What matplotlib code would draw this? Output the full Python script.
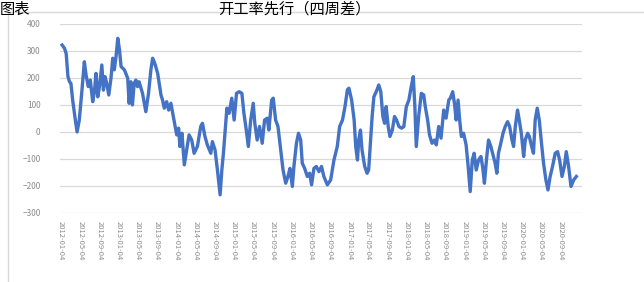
import pandas as pd
import matplotlib.pyplot as plt
import matplotlib.dates as mdates
from matplotlib.patches import Rectangle

plt.rcParams['font.family'] = ['Noto Sans CJK SC', 'DejaVu Sans']

# series
dates = [
    '2012-01-10', '2012-01-25', '2012-02-05', '2012-02-16', '2012-02-26', '2012-03-06', '2012-03-17',
    '2012-04-03', '2012-04-14', '2012-04-28', '2012-05-15', '2012-05-30', '2012-06-10', '2012-06-24',
    '2012-07-07', '2012-07-22', '2012-08-02', '2012-08-12', '2012-08-23', '2012-09-03', '2012-09-18',
    '2012-09-28', '2012-10-08', '2012-10-19', '2012-11-01', '2012-11-15', '2012-11-26', '2012-12-06',
    '2012-12-17', '2012-12-28', '2013-01-08', '2013-01-18', '2013-02-08', '2013-03-01', '2013-03-10',
    '2013-03-21', '2013-03-31', '2013-04-11', '2013-04-22', '2013-05-02', '2013-05-12', '2013-06-03',
    '2013-06-24', '2013-07-11', '2013-07-26', '2013-08-06', '2013-08-20', '2013-09-07', '2013-09-28',
    '2013-10-08', '2013-10-19', '2013-11-03', '2013-11-16', '2013-11-30', '2013-12-15', '2013-12-27',
    '2014-01-06', '2014-01-18', '2014-01-26', '2014-02-08', '2014-02-23', '2014-03-08', '2014-03-25',
    '2014-04-11', '2014-04-26', '2014-05-17', '2014-06-07', '2014-06-18', '2014-07-04', '2014-07-19',
    '2014-08-10', '2014-08-20', '2014-09-06', '2014-09-21', '2014-10-08', '2014-10-19', '2014-10-29',
    '2014-11-09', '2014-11-20', '2014-12-04', '2014-12-21', '2015-01-05', '2015-01-20', '2015-02-06',
    '2015-02-23', '2015-03-08', '2015-03-23', '2015-04-05', '2015-04-20', '2015-05-06', '2015-05-16',
    '2015-05-31', '2015-06-15', '2015-07-02', '2015-07-17', '2015-08-03', '2015-08-13', '2015-08-31',
    '2015-09-10', '2015-09-25', '2015-10-10', '2015-10-27', '2015-11-11', '2015-11-28', '2015-12-12',
    '2015-12-25', '2016-01-09', '2016-01-19', '2016-02-04', '2016-02-17', '2016-03-02', '2016-03-12',
    '2016-03-27', '2016-04-13', '2016-04-28', '2016-05-10', '2016-05-25', '2016-06-09', '2016-06-26',
    '2016-07-12', '2016-07-27', '2016-08-18', '2016-09-08', '2016-09-29', '2016-10-20', '2016-11-04',
    '2016-11-22', '2016-12-08', '2016-12-23', '2017-01-02', '2017-01-19', '2017-02-04', '2017-02-14',
    '2017-02-25', '2017-03-05', '2017-03-16', '2017-03-26', '2017-04-12', '2017-04-27', '2017-05-07',
    '2017-05-18', '2017-05-29', '2017-06-09', '2017-06-24', '2017-07-10', '2017-07-23', '2017-08-05',
    '2017-08-16', '2017-08-26', '2017-09-08', '2017-09-19', '2017-10-04', '2017-10-18', '2017-10-31',
    '2017-11-15', '2017-12-02', '2017-12-16', '2018-01-01', '2018-01-17', '2018-02-01', '2018-02-14',
    '2018-02-24', '2018-03-05', '2018-03-20', '2018-04-06', '2018-04-21', '2018-05-01', '2018-05-16',
    '2018-05-28', '2018-06-13', '2018-06-28', '2018-07-10', '2018-07-25', '2018-08-09', '2018-08-26',
    '2018-09-10', '2018-09-27', '2018-10-07', '2018-10-22', '2018-11-02', '2018-11-13', '2018-11-25',
    '2018-12-05', '2018-12-16', '2018-12-30', '2019-01-15', '2019-01-28', '2019-02-10', '2019-02-23',
    '2019-03-07', '2019-03-20', '2019-04-04', '2019-04-19', '2019-05-01', '2019-05-11', '2019-05-24',
    '2019-06-06', '2019-06-21', '2019-07-07', '2019-07-18', '2019-07-29', '2019-08-08', '2019-08-23',
    '2019-09-06', '2019-09-20', '2019-10-05', '2019-10-18', '2019-11-02', '2019-11-12', '2019-11-23',
    '2019-12-07', '2019-12-18', '2019-12-31', '2020-01-15', '2020-01-25', '2020-02-09', '2020-02-20',
    '2020-03-03', '2020-03-17', '2020-03-28', '2020-04-10', '2020-04-23', '2020-05-05', '2020-05-20',
    '2020-06-04', '2020-06-17', '2020-07-01', '2020-07-16', '2020-08-02', '2020-08-17', '2020-08-30',
    '2020-09-14', '2020-09-29', '2020-10-11', '2020-10-26', '2020-11-10', '2020-11-27', '2020-12-14',
]
values = [
    322, 310, 290, 205, 186, 180, 118,
    44, 0, 44, 155, 260, 211, 168,
    192, 112, 150, 217, 130, 168, 248,
    155, 205, 180, 137, 199, 273, 230,
    279, 347, 304, 242, 230, 199, 106,
    186, 100, 180, 192, 168, 186, 143,
    75, 143, 230, 273, 254, 217, 137,
    118, 88, 112, 81, 106, 57, 20,
    -11, 14, -54, -5, -122, -73, -11,
    -30, -79, -54, 20, 32, -17, -48,
    -79, -36, -67, -141, -233, -141, -79,
    7, 88, 69, 125, 44, 143, 149,
    143, 69, 7, -54, 44, 106, 32,
    -30, 20, -42, 44, 51, 7, 118,
    125, 44, 20, -67, -141, -190, -165,
    -135, -202, -128, -42, -5, -30, -116,
    -135, -165, -153, -196, -135, -128, -147,
    -128, -165, -196, -178, -104, -54, 20,
    44, 94, 156, 162, 118, 44, -54,
    -104, -30, 7, -67, -128, -153, -141,
    -42, 57, 130, 149, 174, 149, 57,
    32, 94, 20, -17, 7, 57, 44,
    20, 14, 20, 94, 118, 168, 205,
    94, -54, 57, 143, 137, 94, 44,
    -11, -42, -30, -48, 20, -23, 81,
    51, 118, 125, 149, 106, 44, 118,
    44, -17, -5, -48, -128, -221, -104,
    -79, -141, -104, -91, -135, -190, -104,
    -30, -54, -91, -116, -153, -79, -42,
    -5, 20, 38, 20, -30, -54, 20,
    81, 44, -5, -91, -30, -5, -17,
    -48, -79, 44, 88, 44, -30, -116,
    -178, -215, -165, -128, -79, -73, -104,
    -165, -128, -73, -128, -202, -178, -165,
]
yticks = [-300, -200, -100, 0, 100, 200, 300, 400]
# x tick labels every 4 months, 2012-01-04 ... 2020-09-04
tick_dates = pd.date_range('2012-01-01', '2020-09-01', freq='4MS') + pd.Timedelta(days=3)

x = pd.to_datetime(dates)

fig = plt.figure(figsize=(6.44, 2.82), dpi=100)
ax = fig.add_axes([0.093, 0.245, 0.811, 0.670])

ax.plot(x, values, color='#4472C4', linewidth=2.4)

ax.set_ylim(-300, 400)
ax.set_yticks(yticks)
ax.set_xlim(pd.Timestamp('2011-12-27'), pd.Timestamp('2021-01-20'))
ax.set_xticks(tick_dates)
ax.xaxis.set_major_formatter(mdates.DateFormatter('%Y-%m-%d'))

ax.grid(axis='y', color='#d9d9d9', linewidth=0.9)
ax.set_axisbelow(True)
for s in ax.spines.values():
    s.set_visible(False)
ax.tick_params(axis='both', length=0, colors='#8c8c8c', labelsize=6)
ax.tick_params(axis='y', pad=14)
ax.tick_params(axis='x', pad=6)
for lbl in ax.get_xticklabels():
    lbl.set_rotation(-90)
    lbl.set_fontsize(5.5)

# light chart frame (runs off the right edge in the screenshot)
fig.patches.append(Rectangle((8 / 644, -0.1), 1.2, 1 - 12 / 282 + 0.1,
                             transform=fig.transFigure, fill=False,
                             edgecolor='#d9d9d9', linewidth=1.0))

# title at the very top
fig.text(0.0, 0.998, '图表', fontsize=11, va='top', ha='left', color='#000000')
fig.text(218 / 644, 0.998, '开工率先行（四周差）', fontsize=11,
         va='top', ha='left', color='#000000')

fig.savefig('out.png', dpi=100)
